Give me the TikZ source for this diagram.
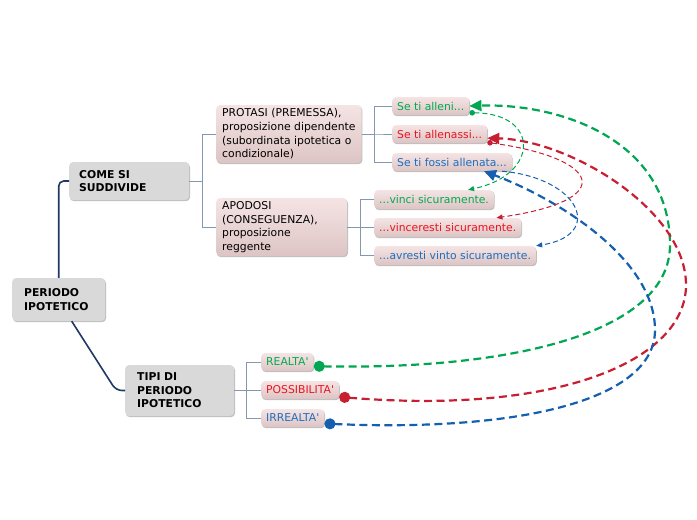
\documentclass[tikz,border=0pt]{standalone}
\usepackage{fontspec}
\setmainfont{DejaVu Sans}
\usetikzlibrary{arrows.meta,shadows,calc}

\definecolor{boxgrey}{RGB}{217,217,217}
\definecolor{pinktop}{RGB}{245,228,228}
\definecolor{pinkbot}{RGB}{221,196,196}
\definecolor{rootline}{RGB}{32,56,100}
\definecolor{branchline}{RGB}{132,151,176}
\definecolor{greentxt}{RGB}{0,170,80}
\definecolor{redtxt}{RGB}{235,20,30}
\definecolor{bluetxt}{RGB}{30,110,190}
\definecolor{greenline}{RGB}{0,166,81}
\definecolor{redline}{RGB}{200,30,50}
\definecolor{blueline}{RGB}{20,95,175}

\begin{document}
\begin{tikzpicture}[x=1pt,y=-1pt,
  every node/.style={font=\fontsize{10.8}{13.6}\selectfont},
  boxshadow/.style={drop shadow={shadow xshift=0.8pt,shadow yshift=-1.2pt,opacity=.25,fill=black}},
  greybox/.style={anchor=west,fill=boxgrey,rounded corners=4pt,align=left,inner xsep=12pt,
    font=\fontsize{10.8}{13.6}\selectfont\bfseries,boxshadow},
  pinkbox/.style={anchor=west,top color=pinktop,bottom color=pinkbot,rounded corners=4pt,
    align=left,inner xsep=6pt,boxshadow},
  leaf/.style={pinkbox,inner xsep=5pt,minimum height=18pt},
  root/.style={rootline,line width=1.6pt},
  branch/.style={branchline,line width=0.8pt},
  thickdash/.style={line width=2.2pt,dash pattern=on 8pt off 4.5pt,
    {Circle[length=11pt]}-{Triangle[length=12pt,width=11pt]}},
  thindash/.style={line width=1pt,dash pattern=on 5pt off 3pt,
    {Circle[length=5.5pt]}-{Triangle[length=6pt,width=5pt]}}]
\useasboundingbox (0,0) rectangle (697,520);

\node[greybox,text width=69pt,minimum height=43pt](P) at (12,299.5){PERIODO\\IPOTETICO};
\node[greybox,text width=100pt,minimum height=38pt,inner xsep=10pt](CS) at (69,181){COME SI\\SUDDIVIDE};
\node[greybox,text width=85pt,minimum height=51pt](TI) at (125,390.5){TIPI DI\\PERIODO\\IPOTETICO};

\node[pinkbox,minimum height=58pt](PR) at (216,134){PROTASI (PREMESSA),\\proposizione dipendente\\(subordinata ipotetica o\\condizionale)};
\node[pinkbox,text width=119pt,minimum height=58pt](AP) at (216,227){APODOSI\\(CONSEGUENZA),\\proposizione\\reggente};

\node[leaf,text=greentxt](A) at (392,106){Se ti alleni...};
\node[leaf,text=redtxt](AS) at (392,134){Se ti allenassi...};
\node[leaf,text=bluetxt](FA) at (392,162){Se ti fossi allenata...};

\node[leaf,text=greentxt,minimum height=19pt](V) at (374,199.5){...vinci sicuramente.};
\node[leaf,text=redtxt,minimum height=19pt](VR) at (374,227.5){...vinceresti sicuramente.};
\node[leaf,text=bluetxt,minimum height=19pt](AV) at (374,255.5){...avresti vinto sicuramente.};

\node[leaf,text=greentxt](R) at (261,362){REALTA\textquotesingle};
\node[leaf,text=redtxt](PO) at (261,390){POSSIBILITA\textquotesingle};
\node[leaf,text=bluetxt](IR) at (261,418){IRREALTA\textquotesingle};

% tree
\draw[root,rounded corners=5pt] (P.north) |- (CS.west);
\draw[root,rounded corners=6pt] ([xshift=13pt]P.south) -- ($(TI.west)+(-9,0)$) -- (TI.west);

\draw[branch] (CS.east) -- ++(13,0) |- (PR.west);
\draw[branch] (CS.east) -- ++(13,0) |- (AP.west);

\draw[branch] (PR.east) -- ++(13,0) |- (A.west);
\draw[branch] (PR.east) -- ++(13,0) |- (AS.west);
\draw[branch] (PR.east) -- ++(13,0) |- (FA.west);

\draw[branch] (AP.east) -- ++(13,0) |- (V.west);
\draw[branch] (AP.east) -- ++(13,0) |- (VR.west);
\draw[branch] (AP.east) -- ++(13,0) |- (AV.west);

\draw[branch] (TI.east) -- ++(12,0) |- (R.west);
\draw[branch] (TI.east) -- ++(12,0) |- (PO.west);
\draw[branch] (TI.east) -- ++(12,0) |- (IR.west);

% links
\draw[thickdash,greenline] (R.-9) .. controls (520,370) and (670,330) .. (670,245)
  .. controls (670,140) and (560,103) .. (A.east);
\draw[thickdash,redline] (PO.-10) .. controls (560,415) and (686,360) .. (686,285)
  .. controls (686,210) and (570,140) .. (AS.-5);
\draw[thickdash,blueline] (IR.-10) .. controls (520,432) and (655,400) .. (655,330)
  .. controls (655,260) and (560,200) .. ([xshift=-28pt]FA.south east);

\draw[thindash,greenline] (A.-10) .. controls (540,113) and (540,175) .. ([xshift=-26pt]V.north east);
\draw[thindash,redline] (AS.-10) .. controls (600,158) and (620,200) .. ([xshift=-25pt]VR.north east);
\draw[thindash,blueline,-{Triangle[length=6pt,width=5pt]}] ([xshift=-10pt]FA.south east) .. controls (580,178) and (605,235) .. (AV.north east);

\end{tikzpicture}
\end{document}
